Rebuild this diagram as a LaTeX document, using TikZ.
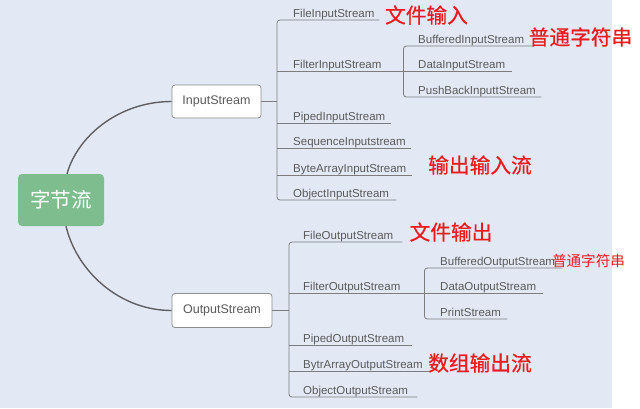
\documentclass[tikz,border=0pt]{standalone}
\usepackage{fontspec}
\setmainfont{Liberation Sans}
\newfontfamily\cjk{Noto Sans CJK SC}
\newfontfamily\cjkb[FakeBold=0.6]{Noto Sans CJK SC}
\definecolor{bg}{RGB}{226,233,245}
\definecolor{leafgray}{RGB}{90,90,90}
\definecolor{treeline}{RGB}{125,125,128}
\definecolor{curveline}{RGB}{95,95,100}
\definecolor{rootgreen}{RGB}{126,190,142}
\definecolor{boxborder}{RGB}{140,140,140}
\definecolor{note}{RGB}{232,28,32}
\begin{document}
\begin{tikzpicture}[x=1pt,y=-1pt,
  leaf/.style={anchor=south west, inner xsep=0pt, inner ysep=0pt, text height=8.5pt, text depth=2.5pt, text width=#1, align=left, font=\fontsize{11.5}{12}\selectfont, text=leafgray},
  tree/.style={draw=treeline, line width=0.8pt},
  branch/.style={draw=curveline, line width=1.4pt},
  midbox/.style={draw=boxborder, fill=white, rounded corners=3pt, line width=0.8pt, inner sep=0pt, font=\fontsize{12.5}{13}\selectfont, text=leafgray},
  bignote/.style={inner sep=0pt, text=note, font=\cjkb\fontsize{20.7}{21}\selectfont},
  smallnote/.style={inner sep=0pt, text=note, font=\cjk\fontsize{14.6}{15}\selectfont}
]
\useasboundingbox (0,0) rectangle (640,408);
\fill[white] (0,0) rectangle (640,408);
\fill[bg] (0,0) rectangle (612,408);

% root
\node[fill=rootgreen, rounded corners=4pt, minimum width=86pt, minimum height=52pt, inner sep=0pt, text=white, font=\cjk\fontsize{20.5}{21}\selectfont] (root) at (61,200) {字节流};

% second level
\node[midbox, minimum width=89pt, minimum height=33pt] (is) at (216.5,101.5) {InputStream};
\node[midbox, minimum width=100pt, minimum height=34pt] (os) at (222,310.5) {OutputStream};

\coordinate (rt) at ([xshift=6pt]root.north);
\coordinate (rb) at ([xshift=5pt]root.south);
\draw[branch] (rt) .. controls (78,135) and (120,101.5) .. (is.west);
\draw[branch] (rb) .. controls (77,272) and (120,310.5) .. (os.west);

% input children
\coordinate (ib) at (277,101.5);
\node[leaf=86pt]  (fis)   at (293,20)  {FileInputStream};
\node[leaf=110pt] (filis) at (293,71)  {FilterInputStream};
\node[leaf=98pt]  (pis)   at (293,123) {PipedInputStream};
\node[leaf=118pt] (sis)   at (293,148) {SequenceInputstream};
\node[leaf=119pt] (bais)  at (293,175) {ByteArrayInputStream};
\node[leaf=103pt] (ois)   at (293,200) {ObjectInputStream};
\node[leaf=115pt] (bis)   at (418,46)  {BufferedInputStream};
\node[leaf=94pt]  (dis)   at (418,71)  {DataInputStream};
\node[leaf=123pt] (pbis)  at (418,97)  {PushBackInputtStream};

\draw[tree] (is.east) -- (is.east -| ib);
\draw[tree, rounded corners=3pt] (fis.south east) -- (fis.south -| ib) -- (ois.south -| ib) -- (ois.south east);
\draw[tree] (filis.south -| ib) -- (dis.south east);
\draw[tree] (pis.south -| ib) -- (pis.south east);
\draw[tree] (sis.south -| ib) -- (sis.south east);
\draw[tree] (bais.south -| ib) -- (bais.south east);
\draw[tree, rounded corners=3pt] (bis.south east) -- (bis.south -| filis.south east) -- (pbis.south -| filis.south east) -- (pbis.south east);

% output children
\coordinate (ob) at (289,310.5);
\node[leaf=99pt]  (fos)   at (303,242) {FileOutputStream};
\node[leaf=121pt] (filos) at (303,293) {FilterOutputStream};
\node[leaf=109pt] (pos)   at (303,345) {PipedOutputStream};
\node[leaf=127pt] (baos)  at (303,371) {BytrArrayOutputStream};
\node[leaf=114pt] (oos)   at (303,397) {ObjectOutputStream};
\node[leaf=122pt] (bos)   at (440,268) {BufferedOutputStream};
\node[leaf=103pt] (dos)   at (440,293) {DataOutputStream};
\node[leaf=67pt]  (ps)    at (440,319) {PrintStream};

\draw[tree] (os.east) -- (os.east -| ob);
\draw[tree, rounded corners=3pt] (fos.south east) -- (fos.south -| ob) -- (oos.south -| ob) -- (oos.south east);
\draw[tree] (filos.south -| ob) -- (dos.south east);
\draw[tree] (pos.south -| ob) -- (pos.south east);
\draw[tree] (baos.south -| ob) -- (baos.south east);
\draw[tree, rounded corners=3pt] (bos.south east) -- (bos.south -| filos.south east) -- (ps.south -| filos.south east) -- (ps.south east);

% red notes
\node[bignote] (n1) at (426.5,15) {文件输入};
\node[bignote] (n2) at (580.5,37) {普通字符串};
\node[bignote] (n3) at (480,165) {输出输入流};
\node[bignote] (n4) at (451,232) {文件输出};
\node[smallnote] (n5) at (588.5,261) {普通字符串};
\node[bignote] (n6) at (480,363) {数组输出流};
\end{tikzpicture}
\end{document}
